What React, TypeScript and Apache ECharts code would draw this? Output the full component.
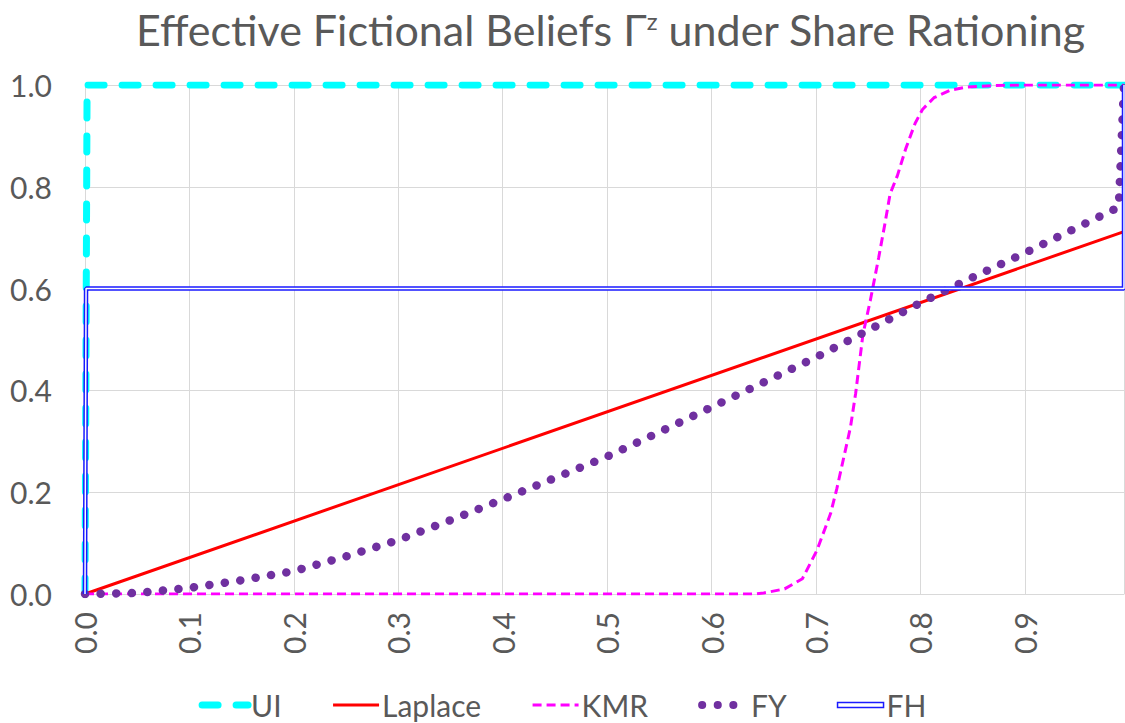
import React, { useEffect, useRef } from "react";
import * as echarts from "echarts";

const TITLE_MAIN = "Effective Fictional Beliefs Γ";
const TITLE_SUP = "z";
const TITLE_END = " under Share Rationing";

const uiX = [0, 0.002, 0.995];
const uiY = [0, 1, 1];

const laplaceX = [0, 0.995, 0.995];
const laplaceY = [0, 0.712, 1];

const kmrX = [0, 0.64, 0.65, 0.67, 0.687, 0.701, 0.714, 0.72, 0.733, 0.738, 0.745, 0.752, 0.76, 0.766, 0.771, 0.778, 0.786, 0.795, 0.802, 0.813, 0.829, 0.845, 0.87, 0.9, 0.995];
const kmrY = [0, 0, 0.002, 0.01, 0.03, 0.086, 0.158, 0.207, 0.327, 0.394, 0.51, 0.576, 0.66, 0.727, 0.786, 0.822, 0.875, 0.925, 0.952, 0.975, 0.99, 0.996, 0.999, 1, 1];

const fyX = [0, 0.05, 0.1, 0.15, 0.2, 0.25, 0.3, 0.35, 0.4, 0.45, 0.5, 0.55, 0.6, 0.65, 0.7, 0.75, 0.8, 0.85, 0.9, 0.95, 0.99, 0.995];
const fyY = [0, 0.002, 0.012, 0.027, 0.045, 0.074, 0.106, 0.145, 0.186, 0.228, 0.27, 0.318, 0.367, 0.416, 0.465, 0.518, 0.572, 0.622, 0.67, 0.72, 0.76, 1];

const fhX = [0, 0.001, 0.995, 0.995];
const fhY = [0, 0.6, 0.6, 1];

const X_TICK_STEP = 0.1;
const Y_TICK_STEP = 0.2;

const zip = (xs: number[], ys: number[]) => xs.map((x, i) => [x, ys[i]]);

const TEXT = "#595959";
const FONT = "Lato";
const HIDE_SYMBOL = { opacity: 0 };

export default function App() {
  const ref = useRef<HTMLDivElement>(null);
  useEffect(() => {
    if (!ref.current) return;
    const chart = echarts.init(ref.current, undefined, { renderer: "svg" });
    const option: any = {
      animation: false,
      backgroundColor: "#ffffff",
      title: {
        text: `${TITLE_MAIN}{sup|${TITLE_SUP}}${TITLE_END}`,
        left: 131,
        top: 3,
        textStyle: {
          fontFamily: FONT,
          fontSize: 43,
          fontWeight: "normal",
          color: TEXT,
          rich: {
            sup: { fontFamily: FONT, fontSize: 24, color: TEXT, verticalAlign: "top", padding: [0, 0, 18, 0] },
          },
        },
      },
      legend: {
        data: [
          { name: "UI", lineStyle: { width: 7 }, itemStyle: HIDE_SYMBOL },
          { name: "Laplace", lineStyle: { width: 3 }, itemStyle: HIDE_SYMBOL },
          { name: "KMR", lineStyle: { width: 3 }, itemStyle: HIDE_SYMBOL },
          { name: "FY", lineStyle: { width: 8 }, itemStyle: HIDE_SYMBOL },
          { name: "FH", icon: "rect", itemStyle: { color: "#ffffff", borderColor: "#1a1aff", borderWidth: 1.5 } },
        ],
        left: "center",
        top: 685,
        itemWidth: 46,
        itemHeight: 5,
        itemGap: 50,
        textStyle: { fontFamily: FONT, fontSize: 30, color: TEXT, padding: [0, 0, 0, -2] },
      },
      grid: { left: 85, right: 1, top: 85, bottom: 129, outerBoundsMode: "none" },
      xAxis: {
        type: "value",
        min: 0,
        max: 0.995,
        interval: X_TICK_STEP,
        axisLine: { show: true, lineStyle: { color: "#d9d9d9", width: 1 } },
        axisTick: { show: false },
        splitLine: { show: true, lineStyle: { color: "#d9d9d9", width: 1 } },
        axisLabel: {
          rotate: 90,
          margin: 18,
          showMaxLabel: false,
          fontFamily: FONT,
          fontSize: 30,
          color: TEXT,
          formatter: (v: number) => v.toFixed(1),
        },
      },
      yAxis: {
        type: "value",
        min: 0,
        max: 1,
        interval: Y_TICK_STEP,
        axisLine: { show: false },
        axisTick: { show: false },
        splitLine: { show: true, lineStyle: { color: "#d9d9d9", width: 1 } },
        axisLabel: {
          margin: 33,
          fontFamily: FONT,
          fontSize: 30,
          color: TEXT,
          formatter: (v: number) => v.toFixed(1),
        },
      },
      series: [
        {
          name: "UI",
          type: "line",
          data: zip(uiX, uiY),
          symbol: "none",
          lineStyle: { color: "#00ffff", width: 7, type: [16, 18], cap: "round", join: "round" },
          itemStyle: { color: "#00ffff" },
          z: 2,
        },
        {
          name: "Laplace",
          type: "line",
          data: zip(laplaceX, laplaceY),
          symbol: "none",
          lineStyle: { color: "#ff0000", width: 3 },
          itemStyle: { color: "#ff0000" },
          z: 3,
        },
        {
          name: "KMR",
          type: "line",
          data: zip(kmrX, kmrY),
          symbol: "none",
          lineStyle: { color: "#ff00ff", width: 3, type: [9, 5] },
          itemStyle: { color: "#ff00ff" },
          z: 4,
        },
        {
          name: "FY",
          type: "line",
          data: zip(fyX, fyY),
          symbol: "none",
          lineStyle: { color: "#7030a0", width: 8.5, type: [0.1, 15.5], cap: "round" },
          itemStyle: { color: "#7030a0" },
          z: 5,
        },
        {
          name: "FH",
          type: "line",
          data: zip(fhX, fhY),
          symbol: "none",
          lineStyle: { color: "#1a1aff", width: 4.5 },
          itemStyle: { color: "#1a1aff" },
          z: 6,
        },
        {
          name: "FH inner",
          type: "line",
          data: zip(fhX, fhY),
          symbol: "none",
          lineStyle: { color: "#ffffff", width: 1.5 },
          itemStyle: { color: "#ffffff" },
          silent: true,
          z: 7,
        },
      ],
    };
    chart.setOption(option);
    return () => chart.dispose();
  }, []);
  return (
    <div
      ref={ref}
      style={{ position: "fixed", left: 0, top: 0, width: 1125, height: 723, background: "#fff" }}
    />
  );
}
